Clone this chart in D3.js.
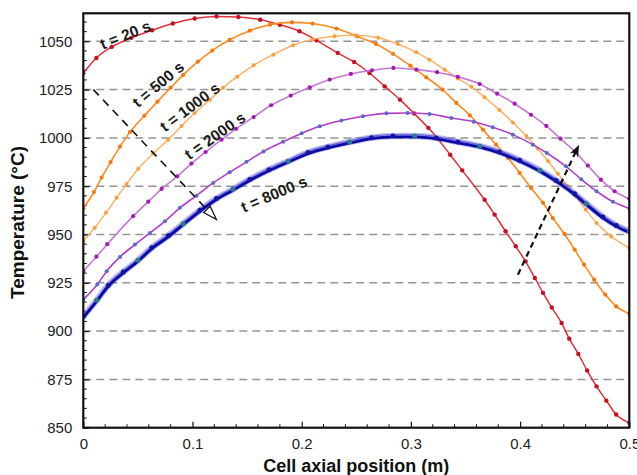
<!DOCTYPE html>
<html>
<head>
<meta charset="utf-8">
<script src="https://cdn.jsdelivr.net/npm/d3@7/dist/d3.min.js"></script>
<style>
  html, body { margin: 0; padding: 0; background: #fff; }
  svg { display: block; font-family: "Liberation Sans", Arial, sans-serif; }
</style>
</head>
<body>
<svg id="chart" width="637" height="475"></svg>
<script>
// Axial temperature profiles along the cell at successive times
// Each series: [axial position (m), temperature (°C)]
const t20 = [
  [0, 1033.5], [0.012, 1041.4], [0.026, 1047.1], [0.044, 1051.8], [0.063, 1055.7],
  [0.082, 1059.2], [0.102, 1061.8], [0.122, 1062.9], [0.142, 1062.6], [0.162, 1061.2],
  [0.18, 1058.6], [0.198, 1055.2], [0.2135, 1050.5], [0.233, 1044], [0.248, 1039.3],
  [0.262, 1033.6], [0.276, 1026.7], [0.29, 1019.8], [0.303, 1012.6], [0.316, 1005.2],
  [0.336, 991.3], [0.347, 983.2], [0.3675, 968], [0.3767, 960.3], [0.3867, 951.7],
  [0.396, 943.9], [0.405, 936.1], [0.4135, 927.5], [0.421, 919.8], [0.429, 912.2],
  [0.438, 904.2], [0.445, 896.1], [0.4533, 888.2], [0.4614, 879.6], [0.47, 871.4],
  [0.479, 864], [0.488, 856.8], [0.5, 852.5]
];
const t500 = [
  [0, 963.5], [0.0098, 972], [0.0168, 979.5], [0.025, 987.5], [0.0336, 995.5],
  [0.0427, 1003], [0.056, 1011.5], [0.068, 1018.8], [0.08, 1026], [0.0915, 1032.6],
  [0.105, 1039.5], [0.118, 1045.2], [0.134, 1050.8], [0.1525, 1055.5], [0.171, 1058.6],
  [0.191, 1059.8], [0.21, 1059.2], [0.232, 1056.6], [0.2507, 1052.6], [0.268, 1048.6],
  [0.2836, 1043.5], [0.2995, 1037.4], [0.314, 1031.4], [0.329, 1025], [0.3416, 1018.1],
  [0.354, 1011.7], [0.366, 1004.3], [0.378, 996.5], [0.389, 989.6], [0.3995, 981.9],
  [0.41, 974.1], [0.421, 966.4], [0.43, 958.5], [0.4406, 950.3], [0.45, 942.2],
  [0.4586, 934.4], [0.4678, 926.6], [0.478, 918.9], [0.488, 912.8], [0.5, 909]
];
const t1000 = [
  [0, 946.5], [0.0105, 953.5], [0.0208, 961.2], [0.0305, 969], [0.0397, 976.2],
  [0.0503, 984], [0.064, 991.9], [0.0778, 999.1], [0.09, 1006.2], [0.102, 1012.9],
  [0.116, 1019.8], [0.128, 1026], [0.141, 1031.7], [0.156, 1037.6], [0.174, 1043.1],
  [0.192, 1048], [0.21, 1051], [0.23, 1052.6], [0.2495, 1053.1], [0.27, 1051.8],
  [0.288, 1048.6], [0.305, 1044.3], [0.317, 1040.5], [0.331, 1035.3], [0.343, 1030.8],
  [0.3553, 1026.5], [0.3675, 1021], [0.381, 1014.5], [0.3934, 1008],
  [0.4057, 1001], [0.416, 994.5], [0.4255, 988], [0.4346, 981.5], [0.4437, 975],
  [0.451, 969.8], [0.46, 963], [0.47, 956], [0.4834, 949], [0.5, 943]
];
const t2000 = [
  [0, 931], [0.012, 938.5], [0.022, 945], [0.0457, 959.5], [0.0595, 967],
  [0.0717, 973.6], [0.086, 980.1], [0.099, 986.7], [0.112, 992.7], [0.1266, 999.1],
  [0.14, 1004.7], [0.156, 1010.8], [0.172, 1016.9], [0.19, 1021.9], [0.2074, 1026.2],
  [0.2257, 1030.2], [0.245, 1033.1], [0.2644, 1035], [0.284, 1036.2], [0.305, 1035.3],
  [0.324, 1034], [0.343, 1031.6], [0.363, 1027.9], [0.379, 1022.9], [0.395, 1017.7],
  [0.41, 1012], [0.424, 1006.2], [0.437, 999.6], [0.45, 993], [0.462, 985.7],
  [0.474, 978.4], [0.4865, 972.4], [0.5, 968.5]
];
const t4000 = [
  [0, 916.3], [0.0128, 924.1], [0.0214, 931], [0.0336, 938.4], [0.0473, 944.8],
  [0.061, 950.8], [0.0747, 956.8], [0.0885, 963.8], [0.1037, 970.1], [0.119, 976.7],
  [0.134, 982.2], [0.1495, 987.6], [0.165, 993], [0.183, 998], [0.2, 1002.4],
  [0.2166, 1006], [0.2364, 1009], [0.256, 1011.2], [0.2776, 1012.7], [0.297, 1012.9],
  [0.317, 1012.4], [0.337, 1010.3], [0.3575, 1008.4], [0.375, 1005.5], [0.3934, 1001.7],
  [0.4117, 996.5], [0.4245, 992.2], [0.442, 985.3], [0.456, 978.6], [0.47, 972.4],
  [0.485, 967], [0.5, 963.5]
];
const t8000 = [
  [0, 907], [0.0122, 915.4], [0.0229, 923.2], [0.0366, 930.1], [0.05, 936.1],
  [0.0626, 942.6], [0.0778, 948.8], [0.0915, 955.1], [0.1068, 962], [0.122, 968.1],
  [0.137, 972.9], [0.1525, 978], [0.17, 983], [0.1876, 987.4], [0.2058, 991.9],
  [0.224, 994.8], [0.244, 997.4], [0.2639, 999.6], [0.2836, 1000.5], [0.3035, 1000.5],
  [0.3233, 999.5], [0.343, 997.4], [0.363, 995.2], [0.381, 992.2], [0.3995, 987.9],
  [0.418, 982.7], [0.433, 977.5], [0.45, 970.6], [0.4606, 965.5], [0.4758, 958.6],
  [0.488, 954.2], [0.5, 951]
];

const xTicks = [0, 0.1, 0.2, 0.3, 0.4, 0.5];
const xTickLabels = ["0", "0.1", "0.2", "0.3", "0.4", "0.5"];
const yTicks = [850, 875, 900, 925, 950, 975, 1000, 1025, 1050];
const yTickLabels = ["850", "875", "900", "925", "950", "975", "1000", "1025", "1050"];

// Curve labels: text, anchor [x, T], rotation (deg)
const curveLabels = [
  { text: "t = 20 s",   at: [0.0385, 1053.4], angle: -22 },
  { text: "t = 500 s",  at: [0.0685, 1027.8], angle: -40 },
  { text: "t = 1000 s", at: [0.0975, 1016.0], angle: -37 },
  { text: "t = 2000 s", at: [0.1205, 1001.2], angle: -35 },
  { text: "t = 8000 s", at: [0.1745, 971.0],  angle: -23 }
];
// Time-direction arrows: [start, end] in data space
const arrowCooling = [[0.0092, 1025], [0.122, 957.7]];
const arrowWarming = [[0.398, 929.2], [0.454, 996.5]];

const W = 637, H = 475;
const plot = { left: 83.3, right: 629.3, top: 13.3, bottom: 427.7 };

const svg = d3.select("#chart");
const x = d3.scaleLinear().domain([0, 0.5]).range([plot.left, plot.right]);
const y = d3.scaleLinear().domain([850, 1064.5]).range([plot.bottom, plot.top]);

const defs = svg.append("defs");
defs.append("clipPath").attr("id", "plotClip")
  .append("rect")
  .attr("x", plot.left).attr("y", plot.top)
  .attr("width", plot.right - plot.left).attr("height", plot.bottom - plot.top);

// dashed horizontal grid
svg.append("g")
  .selectAll("line")
  .data(yTicks.filter(v => v > 850))
  .join("line")
  .attr("x1", plot.left).attr("x2", plot.right)
  .attr("y1", d => y(d)).attr("y2", d => y(d))
  .attr("stroke", "#959595")
  .attr("stroke-width", 1.5)
  .attr("stroke-dasharray", "8,5");

// axes with inward ticks
const xAxis = d3.axisBottom(x).tickValues(xTicks)
  .tickFormat((d, i) => xTickLabels[i]).tickSize(-6).tickPadding(11);
const yAxis = d3.axisLeft(y).tickValues(yTicks)
  .tickFormat((d, i) => yTickLabels[i]).tickSize(-6).tickPadding(11);

const gx = svg.append("g").attr("transform", `translate(0,${plot.bottom})`).call(xAxis);
const gy = svg.append("g").attr("transform", `translate(${plot.left},0)`).call(yAxis);
[gx, gy].forEach(g => {
  g.select(".domain").remove();
  g.selectAll(".tick line").attr("stroke", "#111").attr("stroke-width", 1.2);
  g.selectAll(".tick text").attr("font-size", 15).attr("fill", "#222")
    .attr("font-family", "'Liberation Sans', Arial, sans-serif");
});

// minor ticks
const xMinor = d3.range(0, 0.5001, 0.02).filter(v => Math.abs(v * 10 - Math.round(v * 10)) > 1e-6);
const yMinor = d3.range(850, 1064, 5).filter(v => v % 25 !== 0);
svg.append("g").selectAll("line").data(xMinor).join("line")
  .attr("x1", d => x(d)).attr("x2", d => x(d))
  .attr("y1", plot.bottom).attr("y2", plot.bottom - 3.5)
  .attr("stroke", "#111").attr("stroke-width", 1);
svg.append("g").selectAll("line").data(yMinor).join("line")
  .attr("x1", plot.left).attr("x2", plot.left + 3.5)
  .attr("y1", d => y(d)).attr("y2", d => y(d))
  .attr("stroke", "#111").attr("stroke-width", 1);

// profiles
const line = d3.line().x(d => x(d[0])).y(d => y(d[1])).curve(d3.curveMonotoneX);
const series = [
  { data: t20,   stroke: "#e0303a", width: 1.5, marker: "#c81020", r: 2.2 },
  { data: t500,  stroke: "#ff8a1e", width: 1.6, marker: "#f07a10", r: 2.1 },
  { data: t1000, stroke: "#ffb266", width: 1.5, marker: "#ff9d3c", r: 2.0 },
  { data: t2000, stroke: "#c77ad4", width: 1.6, marker: "#a418b4", r: 2.1 },
  { data: t4000, stroke: "#b43cc8", width: 1.6, marker: "#5a6ac8", r: 2.0 }
];
const gCurves = svg.append("g").attr("clip-path", "url(#plotClip)");

series.forEach(s => {
  gCurves.append("path").datum(s.data)
    .attr("d", line).attr("fill", "none")
    .attr("stroke", s.stroke).attr("stroke-width", s.width);
  gCurves.append("g").selectAll("circle").data(s.data).join("circle")
    .attr("cx", d => x(d[0])).attr("cy", d => y(d[1]))
    .attr("r", s.r).attr("fill", s.marker);
});

// t = 8000 s: overlapping late-time profiles drawn as a band with a dark core
gCurves.append("path").datum(t8000)
  .attr("d", line).attr("fill", "none")
  .attr("stroke", "rgba(90,90,200,0.4)").attr("stroke-width", 6.5)
  .attr("transform", "translate(0,-1)");
gCurves.append("path").datum(t8000)
  .attr("d", line).attr("fill", "none")
  .attr("stroke", "#6a64e4").attr("stroke-width", 1.2)
  .attr("transform", "translate(0,-2.3)");
gCurves.append("path").datum(t8000)
  .attr("d", line).attr("fill", "none")
  .attr("stroke", "#0a0aa8").attr("stroke-width", 2.8);
gCurves.append("g").selectAll("circle").data(t8000).join("circle")
  .attr("cx", d => x(d[0])).attr("cy", d => y(d[1]) - 1)
  .attr("r", 2.5).attr("fill", (d, i) => i % 3 === 1 ? "#2a7a8a" : "#1414a0");

// plot frame
svg.append("rect")
  .attr("x", plot.left).attr("y", plot.top)
  .attr("width", plot.right - plot.left).attr("height", plot.bottom - plot.top)
  .attr("fill", "none").attr("stroke", "#111").attr("stroke-width", 2.2);

// arrows
function drawArrow(pts, opts) {
  const [p0, p1] = pts.map(p => [x(p[0]), y(p[1])]);
  const ang = Math.atan2(p1[1] - p0[1], p1[0] - p0[0]);
  const L = opts.headLen, Wd = opts.headWidth;
  const back = [p1[0] - L * Math.cos(ang), p1[1] - L * Math.sin(ang)];
  const shaftEnd = opts.open ? back : [p1[0] - (L * 0.7) * Math.cos(ang), p1[1] - (L * 0.7) * Math.sin(ang)];
  svg.append("line")
    .attr("x1", p0[0]).attr("y1", p0[1]).attr("x2", shaftEnd[0]).attr("y2", shaftEnd[1])
    .attr("stroke", "#111").attr("stroke-width", opts.width)
    .attr("stroke-dasharray", opts.dash);
  const nx = -Math.sin(ang), ny = Math.cos(ang);
  const left = [back[0] + nx * Wd, back[1] + ny * Wd];
  const right = [back[0] - nx * Wd, back[1] - ny * Wd];
  if (opts.open) {
    svg.append("path")
      .attr("d", `M${left[0]},${left[1]}L${p1[0]},${p1[1]}L${right[0]},${right[1]}Z`)
      .attr("fill", "none").attr("stroke", "#111").attr("stroke-width", 1.2);
  } else {
    const notch = [p1[0] - L * 0.7 * Math.cos(ang), p1[1] - L * 0.7 * Math.sin(ang)];
    svg.append("path")
      .attr("d", `M${p1[0]},${p1[1]}L${left[0]},${left[1]}L${notch[0]},${notch[1]}L${right[0]},${right[1]}Z`)
      .attr("fill", "#111");
  }
}
drawArrow(arrowCooling, { width: 1.6, dash: "8,6", headLen: 14, headWidth: 4.5, open: true });
drawArrow(arrowWarming, { width: 2.2, dash: "6,4", headLen: 12, headWidth: 4.5, open: false });

// curve labels
svg.append("g").selectAll("text").data(curveLabels).join("text")
  .attr("transform", d => `translate(${x(d.at[0])},${y(d.at[1])}) rotate(${d.angle})`)
  .attr("text-anchor", "middle")
  .attr("dominant-baseline", "central")
  .attr("font-size", 15.5).attr("font-weight", "bold").attr("fill", "#1a1a1a")
  .text(d => d.text);

// axis titles
svg.append("text")
  .attr("x", (plot.left + plot.right) / 2).attr("y", 472)
  .attr("text-anchor", "middle")
  .attr("font-size", 18).attr("font-weight", "bold").attr("fill", "#111")
  .text("Cell axial position (m)");
svg.append("text")
  .attr("transform", `translate(24,${(plot.top + plot.bottom) / 2 + 2}) rotate(-90)`)
  .attr("text-anchor", "middle")
  .attr("font-size", 19).attr("font-weight", "bold").attr("fill", "#111")
  .text("Temperature (°C)");
</script>
</body>
</html>
